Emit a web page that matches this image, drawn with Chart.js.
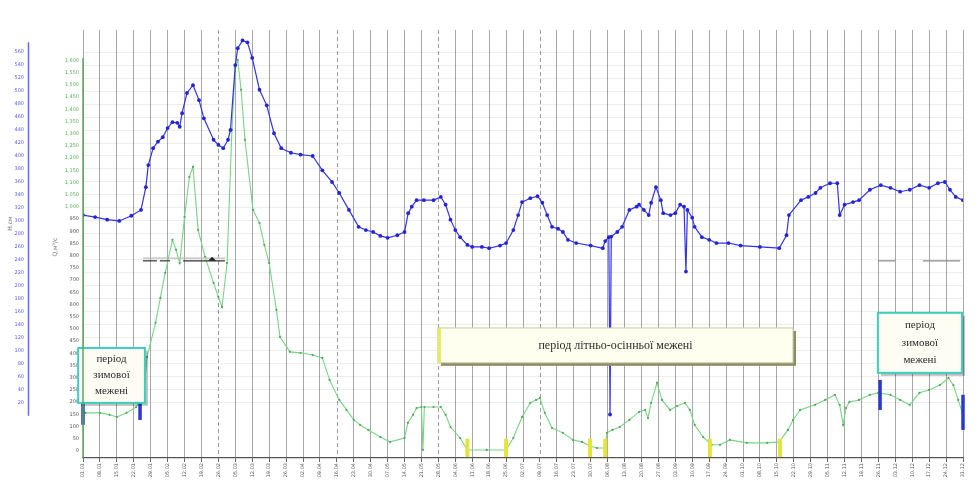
<!DOCTYPE html>
<html>
<head>
<meta charset="utf-8">
<script src="https://cdn.jsdelivr.net/npm/chart.js@4.4.1/dist/chart.umd.min.js"></script>
<style>
body{margin:0;background:#fff}
#wrap{width:976px;height:489px;position:relative}
</style>
</head>
<body>
<div id="wrap"><canvas id="hydro"></canvas></div>
<script>
// рівень води H, см (синя крива)
const levelDays = [0,5,10,15,20,24,26,27,29,31,33,35,37,39,40,41,43,45.5,48,50,54,56,58,60,61,63,64,66,68,70,73,76,79,82,86,90,95,99,103,106,110,114,117,120,123,126,130,133,134.5,136,138,141,145,148,150,152,154,156,159,161,165,168,172.5,175,178,180,181.6,185,188,190,192,194,196.5,198.5,200.6,204,210,215,216,217.5,218,218.5,221,223,226,229,230,232,234,235,237,239,240,243,245,247,248.6,249.4,250,252,253,256,259,262,267,272,280,288,291,292,297,300,303,305,309,312,313,315,318.5,321,325.5,330,334,338,342,346,350,353.6,356.5,358.6,361,364];
const levelValues = [309,306,302,300,308,317,352,386,412,422,429,443,452,451,445,466,497,509,486,458,425,417,412,425,440,540,566,578,575,551,502,478,435,412,405,402,400,378,360,343,317,291,286,283,277,274,278,283,312,322,332,332,332,337,325,302,286,275,263,260,260,258,262,266,286,309,329,335,338,328,309,291,288,283,271,266,262,258,269,275,2,276,283,291,317,322,325,317,309,328,352,332,312,309,312,325,322,222,317,305,291,275,271,266,266,262,260,258,278,309,332,337,343,351,358,358,309,325,329,332,348,355,351,345,348,355,351,358,360,348,337,332];

// витрата води Q, м3/с (зелена крива)
const flowDays = [1,7,11,14,18,22,25,26.5,30,32,34,37,38.5,40,42,44,45.5,47.6,50.5,54,56,57.5,59.6,61.6,63,64,65.4,67,70.3,73,75,77,80,81.5,85.6,90,95,99,102,106,109,112,114.6,118,123,127,133,134.4,136.5,138,140,140.6,141.2,145,148,150,152,156,159,167,175,178,181.6,185,187.4,189,191,194,198.5,202.7,206.4,209.7,212.6,216,216.7,219,222,226,230,232.5,233.7,235,237.4,239.5,242.8,245.7,249,251,253,256.5,260,263.5,267.6,274.6,283,288,291.6,293.7,296.6,302.8,307,311,313,314.4,315.6,317,321,325.5,329,334,338,342,346,350,354.5,358,360,362,364];
const flowValues = [156,156,148,139,156,180,230,385,525,627,730,865,824,770,959,1123,1164,906,795,689,631,590,770,1316,1574,1602,1480,1275,988,934,844,770,578,467,406,402,393,381,291,209,168,127,107,86,57,37,53,115,148,176,180,4,180,180,180,148,98,53,4,4,4,53,139,197,209,217,156,94,74,45,37,20,12,12,74,86,98,127,160,168,135,197,279,209,168,184,197,168,107,57,25,25,45,33,33,37,86,127,168,189,209,230,189,107,176,201,209,230,238,230,209,189,238,250,270,299,270,209,148];

// підписи осей
const dayTicks = [0,7,14,21,28,35,42,49,56,63,70,77,84,91,98,105,112,119,126,133,140,147,154,161,168,175,182,189,196,203,210,217,224,231,238,245,252,259,266,273,280,287,294,301,308,315,322,329,336,343,350,357,364];
const dayLabels = ['01.01','08.01','15.01','22.01','29.01','05.02','12.02','19.02','26.02','05.03','12.03','19.03','26.03','02.04','09.04','16.04','23.04','30.04','07.05','14.05','21.05','28.05','04.06','11.06','18.06','25.06','02.07','09.07','16.07','23.07','30.07','06.08','13.08','20.08','27.08','03.09','10.09','17.09','24.09','01.10','08.10','15.10','22.10','29.10','05.11','12.11','19.11','26.11','03.12','10.12','17.12','24.12','31.12'];
const levelTicks = [20,40,60,80,100,120,140,160,180,200,220,240,260,280,300,320,340,360,380,400,420,440,460,480,500,520,540,560];
const flowTicks = [0,50,100,150,200,250,300,350,400,450,500,550,600,650,700,750,800,850,900,950,1000,1050,1100,1150,1200,1250,1300,1350,1400,1450,1500,1550,1600];
const dashedTicks = [8,15,21,27];

// межі періодів межені
const winterMarks = [[0,230,107],[23.6,230,127],[329.7,291,168],[364,230,86]];
const lowMarks = [159,175,209.7,216,259.3,288.3];

function pts(xs, ys){ return xs.map((d,i)=>({x:d, y:ys[i]})); }

function drawBox(ctx, x1, y1, x2, y2, lines, o){
  ctx.save();
  ctx.fillStyle = o.shadow;
  ctx.fillRect(x1+3, y1+3, x2-x1, y2-y1);
  ctx.fillStyle = o.fill;
  ctx.fillRect(x1, y1, x2-x1, y2-y1);
  ctx.strokeStyle = o.border;
  ctx.lineWidth = o.bw;
  ctx.strokeRect(x1, y1, x2-x1, y2-y1);
  if (o.leftEdge){
    ctx.fillStyle = o.leftEdge;
    ctx.fillRect(x1, y1, 3, y2-y1);
  }
  ctx.fillStyle = '#2a2a2a';
  ctx.font = o.font;
  ctx.textAlign = 'center';
  ctx.textBaseline = 'middle';
  const cx = (x1+x2)/2, h = (y2-y1)/(lines.length+0.4);
  lines.forEach((t,i)=>ctx.fillText(t, cx, y1 + h*0.7 + h*i));
  ctx.restore();
}

const overlay = {
  id: 'overlay',
  beforeDatasetsDraw(chart){
    const {ctx, chartArea:a, scales:{x}} = chart;
    ctx.save();
    ctx.strokeStyle = 'rgba(90,90,90,0.6)';
    ctx.lineWidth = 1;
    ctx.setLineDash([4,3]);
    dashedTicks.forEach(i=>{
      const px = Math.round(x.getPixelForValue(dayTicks[i]))+0.5;
      ctx.beginPath(); ctx.moveTo(px, a.top); ctx.lineTo(px, a.bottom); ctx.stroke();
    });
    ctx.restore();
  },
  afterDatasetsDraw(chart){
    const {ctx, chartArea:a, scales:{x, yH, yQ}} = chart;
    const X = v=>x.getPixelForValue(v), Q = v=>yQ.getPixelForValue(v);
    ctx.save();
    // сині та жовті позначки
    ctx.lineWidth = 3.5;
    ctx.strokeStyle = '#2a3ad0';
    winterMarks.forEach(m=>{
      ctx.beginPath(); ctx.moveTo(X(m[0]), Q(m[1])); ctx.lineTo(X(m[0]), Q(m[2])); ctx.stroke();
    });
    ctx.strokeStyle = '#e4e43a';
    ctx.lineWidth = 4;
    lowMarks.forEach(d=>{
      ctx.beginPath(); ctx.moveTo(X(d), Q(50)); ctx.lineTo(X(d), Q(-25)); ctx.stroke();
    });
    // чорні лінії
    ctx.lineWidth = 1.2;
    ctx.strokeStyle = '#333';
    [[24.8,30.6],[31.8,36],[41.4,58.7]].forEach(s=>{
      ctx.beginPath(); ctx.moveTo(X(s[0]), Q(779)); ctx.lineTo(X(s[1]), Q(779)); ctx.stroke();
    });
    ctx.strokeStyle = '#bbb';
    ctx.beginPath(); ctx.moveTo(X(24.8), Q(790)); ctx.lineTo(X(58.7), Q(790)); ctx.stroke();
    ctx.fillStyle = '#222';
    ctx.beginPath();
    ctx.moveTo(X(53.4)-4, Q(779)); ctx.lineTo(X(53.4)+4, Q(779)); ctx.lineTo(X(53.4), Q(779)-4);
    ctx.closePath(); ctx.fill();
    ctx.strokeStyle = '#888';
    [[328.8,335.9],[347.4,362.8]].forEach(s=>{
      ctx.beginPath(); ctx.moveTo(X(s[0]), Q(779)); ctx.lineTo(X(s[1]), Q(779)); ctx.stroke();
    });
    // рамки з підписами
    drawBox(ctx, X(-2), Q(422), X(25.6), Q(197), ['період','зимової','межені'],
      {fill:'#fdfdf6', border:'#3ccfbd', bw:2, shadow:'rgba(0,0,0,0.25)', font:'11px "Liberation Serif"'});
    drawBox(ctx, X(146.8), Q(504), X(293.7), Q(361), ['період літньо-осінньої межені'],
      {fill:'#fffff0', border:'#c9c99a', bw:1, shadow:'#8d8d68', leftEdge:'#eaea5a', font:'12px "Liberation Serif"'});
    drawBox(ctx, X(328.8), Q(566), X(363.6), Q(320), ['період','зимової','межені'],
      {fill:'#fdfdf3', border:'#3ccfbd', bw:2, shadow:'rgba(0,0,0,0.25)', font:'11px "Liberation Serif"'});
    // лінії осей
    ctx.lineWidth = 1.5;
    ctx.strokeStyle = '#6a6af0';
    ctx.beginPath(); ctx.moveTo(yH.right-0.5, yH.getPixelForValue(575)); ctx.lineTo(yH.right-0.5, yH.getPixelForValue(0)); ctx.stroke();
    ctx.strokeStyle = '#5aaa5a';
    ctx.beginPath(); ctx.moveTo(a.left, Q(1610)); ctx.lineTo(a.left, a.bottom); ctx.stroke();
    // назви осей
    ctx.fillStyle = '#777';
    ctx.font = '6px "DejaVu Sans"';
    ctx.textAlign = 'center';
    ctx.textBaseline = 'middle';
    ctx.translate(10, yH.getPixelForValue(296)); ctx.rotate(-Math.PI/2); ctx.fillText('Н,см', 0, 0);
    ctx.setTransform(1,0,0,1,0,0);
    ctx.translate(55, Q(835)); ctx.rotate(-Math.PI/2); ctx.fillText('Q,м³/с', 0, 0);
    ctx.restore();
  }
};

new Chart(document.getElementById('hydro'), {
  type: 'line',
  data: {
    datasets: [
      {
        label: 'H',
        data: pts(levelDays, levelValues),
        yAxisID: 'yH',
        borderColor: '#3333e6',
        backgroundColor: '#2424d8',
        borderWidth: 1.2,
        pointRadius: 1.9,
        pointBorderWidth: 0,
        tension: 0
      },
      {
        label: 'Q',
        data: pts(flowDays, flowValues),
        yAxisID: 'yQ',
        borderColor: '#78d484',
        backgroundColor: '#4ea85c',
        borderWidth: 1.1,
        pointRadius: 1.1,
        pointBorderWidth: 0,
        tension: 0
      }
    ]
  },
  options: {
    responsive: true,
    maintainAspectRatio: false,
    animation: false,
    layout: { padding: { top: 30, right: 13, bottom: 3, left: 0 } },
    plugins: { legend: { display: false }, tooltip: { enabled: false } },
    scales: {
      x: {
        type: 'linear',
        min: 0,
        max: 364,
        afterBuildTicks: s => { s.ticks = dayTicks.map(v => ({ value: v })); },
        afterFit: s => { s.height = 28; },
        ticks: {
          autoSkip: false,
          minRotation: 90,
          maxRotation: 90,
          padding: 1,
          color: '#555',
          font: { size: 5, family: 'DejaVu Sans' },
          callback: (v, i) => dayLabels[i]
        },
        grid: {
          color: c => dashedTicks.includes(c.index) ? 'rgba(0,0,0,0)' : 'rgba(80,80,80,0.5)',
          tickColor: '#666',
          tickLength: 4
        },
        border: { color: '#555', width: 1.2 }
      },
      yQ: {
        type: 'linear',
        position: 'left',
        min: -29,
        max: 1725,
        afterBuildTicks: s => { s.ticks = flowTicks.map(v => ({ value: v })); },
        afterFit: s => { s.width = 54; },
        ticks: {
          padding: 4,
          font: { size: 5, family: 'DejaVu Sans' },
          color: c => c.tick.value >= 1000 ? '#58b058' : '#555'
        },
        grid: { display: false, drawTicks: false },
        border: { display: false }
      },
      yH: {
        type: 'linear',
        position: 'left',
        min: -65,
        max: 594,
        afterBuildTicks: s => { s.ticks = levelTicks.map(v => ({ value: v })); },
        afterFit: s => { s.width = 29; },
        ticks: {
          padding: 5,
          font: { size: 5, family: 'DejaVu Sans' },
          color: '#5a5af0'
        },
        grid: { color: 'rgba(0,0,0,0.07)', drawTicks: false },
        border: { display: false }
      }
    }
  },
  plugins: [overlay]
});
</script>
</body>
</html>
